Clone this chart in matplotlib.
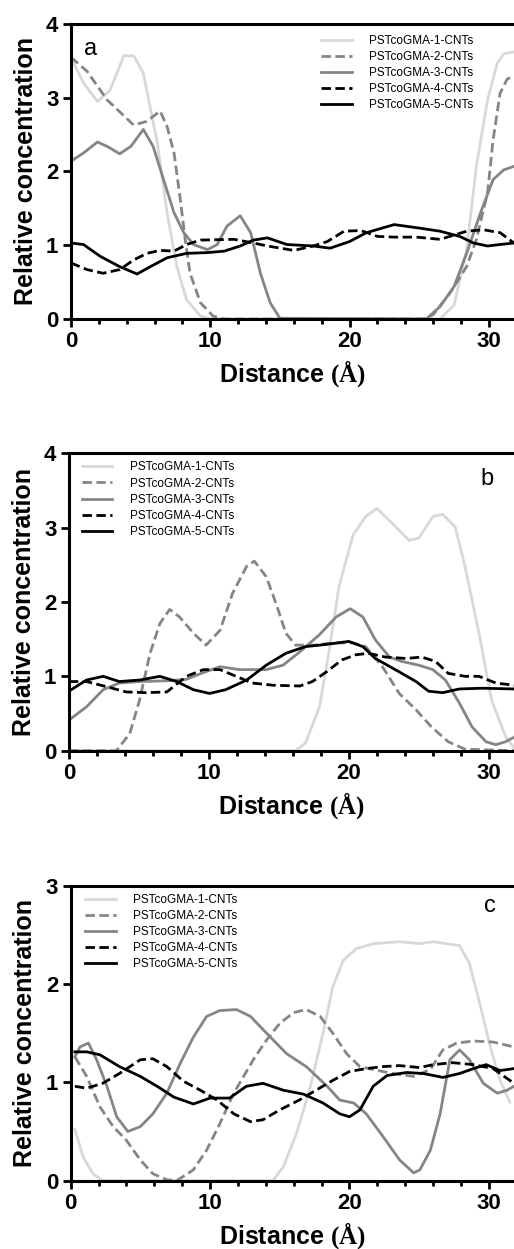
import numpy as np
import matplotlib
matplotlib.use("Agg")
import matplotlib.pyplot as plt

plt.rcParams['font.family'] = ['Liberation Sans', 'DejaVu Sans']
plt.rcParams['mathtext.fontset'] = 'custom'
plt.rcParams['mathtext.bf'] = 'Liberation Serif:bold'
plt.rcParams['mathtext.rm'] = 'Liberation Serif'

labels = ["PSTcoGMA-1-CNTs", "PSTcoGMA-2-CNTs", "PSTcoGMA-3-CNTs",
          "PSTcoGMA-4-CNTs", "PSTcoGMA-5-CNTs"]

# panel a
a_x1 = [0, 0.9, 1.9, 2.8, 3.8, 4.5, 5.2, 6.2, 6.9, 7.6, 8.3, 9.3, 10.2, 26.5, 27.5, 28.4, 29.1, 29.9, 30.6, 31.1, 31.8]
a_y1 = [3.55, 3.2, 2.95, 3.1, 3.57, 3.57, 3.33, 2.39, 1.44, 0.71, 0.26, 0.04, 0, 0, 0.19, 0.94, 2.07, 2.97, 3.47, 3.6, 3.62]
a_x2 = [0, 1.15, 2.6, 4.5, 5.45, 6.4, 6.9, 7.4, 7.85, 8.2, 8.55, 9.3, 10.2, 11, 25.3, 26, 27.2, 28.4, 29.1, 29.9, 30.3, 30.8, 31.3, 31.8]
a_y2 = [3.55, 3.36, 2.97, 2.63, 2.68, 2.82, 2.61, 2.25, 1.62, 1.08, 0.62, 0.22, 0.04, 0, 0, 0.06, 0.35, 0.71, 1.08, 1.71, 2.43, 3.06, 3.25, 3.3]
a_x3 = [0, 0.9, 1.9, 2.6, 3.5, 4.3, 5.2, 5.9, 6.65, 7.4, 8.1, 8.8, 9.8, 10.5, 11.2, 12.15, 12.9, 13.6, 14.3, 15.0, 25.5, 26.5, 27.5, 28.4, 29.4, 30.3, 31.05, 31.8]
a_y3 = [2.14, 2.25, 2.4, 2.34, 2.24, 2.34, 2.57, 2.34, 1.89, 1.44, 1.17, 1.01, 0.94, 1.01, 1.26, 1.4, 1.17, 0.62, 0.22, 0.01, 0, 0.17, 0.44, 0.89, 1.44, 1.89, 2.02, 2.07]
a_x4 = [0, 1.15, 2.3, 3.5, 4.5, 5.45, 6.4, 7.4, 8.3, 9.3, 11.7, 13.1, 14.1, 16.0, 17.4, 18.4, 19.6, 20.8, 22.0, 23.2, 24.8, 26.5, 28.4, 29.6, 30.8, 31.8]
a_y4 = [0.76, 0.67, 0.62, 0.67, 0.8, 0.89, 0.93, 0.92, 1.01, 1.07, 1.08, 1.03, 0.99, 0.93, 0.99, 1.05, 1.19, 1.2, 1.12, 1.11, 1.11, 1.08, 1.19, 1.21, 1.17, 1.03]
a_x5 = [0, 0.9, 2.1, 3.5, 4.75, 5.7, 6.9, 8.3, 9.8, 11, 12.15, 13.1, 14.1, 15.5, 17.4, 18.6, 20, 21.2, 23.2, 25.1, 26.5, 27.9, 28.9, 29.9, 30.8, 31.8]
a_y5 = [1.03, 1.01, 0.85, 0.71, 0.61, 0.71, 0.83, 0.89, 0.9, 0.92, 0.99, 1.07, 1.1, 1.01, 0.99, 0.96, 1.05, 1.17, 1.28, 1.23, 1.19, 1.12, 1.03, 0.99, 1.01, 1.03]

# panel b
b_x1 = [0, 16.2, 16.9, 17.9, 18.6, 19.3, 20.3, 21.2, 22.0, 23.1, 24.3, 25.0, 26.0, 26.7, 27.6, 28.3, 29.3, 30.2, 31.2, 31.8]
b_y1 = [0, 0, 0.1, 0.59, 1.35, 2.21, 2.9, 3.15, 3.26, 3.06, 2.83, 2.86, 3.15, 3.18, 3.01, 2.48, 1.58, 0.68, 0.19, 0.04]
b_x2 = [0, 3.4, 4.35, 5.05, 5.8, 6.5, 7.2, 7.9, 8.9, 9.8, 10.8, 11.7, 12.7, 13.25, 14.1, 14.8, 15.5, 16.2, 17.6, 18.8, 20.3, 21.2, 22.4, 23.6, 24.8, 25.9, 27.1, 28.3, 31.8]
b_y2 = [0, 0, 0.23, 0.68, 1.31, 1.71, 1.9, 1.8, 1.58, 1.42, 1.62, 2.12, 2.48, 2.55, 2.34, 1.98, 1.58, 1.42, 1.42, 1.45, 1.45, 1.4, 1.13, 0.77, 0.55, 0.32, 0.12, 0.02, 0]
b_x3 = [0, 1.26, 2.45, 3.6, 5.05, 7, 8.4, 9.6, 10.8, 12.2, 14.1, 15.3, 16.5, 17.9, 19.1, 20.1, 21, 21.9, 22.9, 23.8, 25, 26, 26.9, 27.9, 28.8, 29.8, 30.5, 31.2, 31.8]
b_y3 = [0.41, 0.59, 0.82, 0.91, 0.93, 0.94, 0.96, 1.05, 1.13, 1.09, 1.09, 1.15, 1.33, 1.56, 1.8, 1.91, 1.8, 1.49, 1.26, 1.2, 1.15, 1.09, 0.95, 0.64, 0.32, 0.12, 0.08, 0.12, 0.18]
b_x4 = [0, 1.26, 2.7, 4.1, 5.5, 7, 8.4, 9.6, 10.8, 11.95, 13.1, 14.6, 16.5, 17.4, 18.4, 19.5, 20.5, 21.4, 22.6, 24.1, 25.2, 26.2, 27.1, 28.3, 29.3, 30.5, 31.8]
b_y4 = [0.93, 0.93, 0.86, 0.79, 0.78, 0.79, 1.0, 1.09, 1.09, 1.0, 0.91, 0.88, 0.87, 0.93, 1.06, 1.22, 1.29, 1.31, 1.26, 1.24, 1.26, 1.2, 1.04, 1.0, 1.0, 0.91, 0.88]
b_x5 = [0, 1.26, 2.45, 3.6, 5.05, 6.5, 7.7, 8.9, 10.05, 11.2, 12.7, 14.1, 15.5, 16.9, 18.4, 20, 21, 21.9, 23.6, 24.8, 25.7, 26.7, 27.9, 29.5, 31.8]
b_y5 = [0.8, 0.95, 1.0, 0.93, 0.95, 1.0, 0.93, 0.82, 0.77, 0.82, 0.95, 1.15, 1.31, 1.4, 1.43, 1.47, 1.4, 1.24, 1.06, 0.93, 0.8, 0.78, 0.83, 0.84, 0.83]

# panel c
c_x1 = [0.3, 0.9, 1.6, 2.3, 14.5, 15.25, 16.2, 17.2, 18.1, 18.8, 19.55, 20.5, 21.7, 23.6, 25.05, 26, 27.9, 28.6, 29.4, 30.1, 30.8, 31.5]
c_y1 = [0.52, 0.24, 0.07, 0, 0, 0.14, 0.48, 0.96, 1.5, 1.97, 2.24, 2.36, 2.41, 2.43, 2.41, 2.43, 2.39, 2.21, 1.77, 1.36, 1.02, 0.8]
c_x2 = [0.3, 1.15, 2.1, 3.05, 4, 5, 5.9, 6.9, 7.6, 8.8, 9.75, 10.7, 11.7, 13.1, 14.05, 15.0, 16, 16.9, 17.9, 18.8, 19.8, 20.75, 21.7, 23.1, 24.6, 25.8, 26.7, 27.7, 28.9, 30.3, 31.8]
c_y2 = [1.26, 1.06, 0.75, 0.55, 0.41, 0.21, 0.07, 0.01, 0, 0.11, 0.31, 0.58, 0.89, 1.23, 1.43, 1.6, 1.71, 1.74, 1.67, 1.5, 1.29, 1.16, 1.13, 1.09, 1.06, 1.13, 1.33, 1.4, 1.42, 1.41, 1.36]
c_x3 = [0.3, 0.67, 1.27, 1.86, 2.6, 3.3, 4.1, 5, 5.9, 6.9, 7.85, 8.8, 9.75, 10.7, 11.9, 12.9, 14.05, 15.5, 16.9, 18.4, 19.3, 20.3, 21.2, 22.4, 23.6, 24.6, 25.05, 25.8, 26.5, 27.2, 27.9, 28.6, 29.6, 30.6, 31.3, 31.8]
c_y3 = [1.26, 1.36, 1.4, 1.23, 0.96, 0.65, 0.5, 0.55, 0.68, 0.89, 1.19, 1.46, 1.67, 1.73, 1.74, 1.67, 1.5, 1.29, 1.16, 0.96, 0.82, 0.79, 0.68, 0.45, 0.21, 0.08, 0.11, 0.31, 0.68, 1.23, 1.33, 1.23, 0.99, 0.89, 0.92, 0.96]
c_x4 = [0.3, 1.15, 2.3, 3.5, 5, 5.9, 6.9, 8.1, 9.3, 10.5, 11.7, 12.9, 13.8, 15.0, 16.4, 17.6, 18.8, 20, 21.2, 22.4, 23.6, 25.05, 26, 27.4, 28.9, 30.3, 31.8]
c_y4 = [0.96, 0.94, 0.99, 1.09, 1.23, 1.24, 1.16, 1.01, 0.92, 0.82, 0.68, 0.6, 0.62, 0.72, 0.82, 0.92, 1.02, 1.11, 1.14, 1.16, 1.17, 1.15, 1.18, 1.2, 1.18, 1.14, 0.99]
c_x5 = [0.3, 1.15, 2.1, 3.5, 5, 6.2, 7.4, 8.8, 10, 11.4, 12.6, 13.8, 15.25, 16.7, 18.1, 19.3, 20, 20.75, 21.7, 22.7, 24.1, 25.3, 26.7, 27.9, 28.9, 29.8, 30.8, 31.8]
c_y5 = [1.31, 1.31, 1.28, 1.16, 1.06, 0.96, 0.85, 0.78, 0.84, 0.84, 0.96, 0.99, 0.92, 0.88, 0.79, 0.68, 0.65, 0.72, 0.96, 1.07, 1.1, 1.09, 1.05, 1.09, 1.14, 1.18, 1.12, 1.14]

colors = ['#d8d8d8', '#858585', '#858585', '#000000', '#000000']
styles = ['-', '--', '-', '--', '-']

fig = plt.figure(figsize=(5.14, 12.49), dpi=100)

panels = [
    ([0.138, 0.7446, 0.862, 0.2362], [(a_x1, a_y1), (a_x2, a_y2), (a_x3, a_y3), (a_x4, a_y4), (a_x5, a_y5)], 4, 'a', (0.045, 0.915), (0.564, 0.963)),
    ([0.134, 0.399, 0.866, 0.238], [(b_x1, b_y1), (b_x2, b_y2), (b_x3, b_y3), (b_x4, b_y4), (b_x5, b_y5)], 4, 'b', (0.94, 0.915), (0.029, 0.973)),
    ([0.1375, 0.0547, 0.8625, 0.2362], [(c_x1, c_y1), (c_x2, c_y2), (c_x3, c_y3), (c_x4, c_y4), (c_x5, c_y5)], 3, 'c', (0.945, 0.93), (0.032, 0.972)),
]

for rect, series, ymax, letter, lpos, legpos in panels:
    ax = fig.add_axes(rect)
    for (xs, ys), c, ls, lab in zip(series, colors, styles, labels):
        line, = ax.plot(xs, ys, color=c, linestyle=ls, lw=2.0, label=lab)
        if ls == '--':
            line.set_dashes((3.4, 1.6))
    ax.set_xlim(0, 31.8)
    ax.set_ylim(0, ymax)
    ax.set_xticks([0, 10, 20, 30])
    ax.set_xticks(np.arange(0, 32, 2), minor=True)
    ax.set_yticks(np.arange(0, ymax + 1))
    ax.spines['right'].set_visible(False)
    for s in ['left', 'bottom', 'top']:
        ax.spines[s].set_linewidth(2.2)
    ax.tick_params(which='major', length=6, width=2.0, direction='out', labelsize=16, pad=3)
    ax.tick_params(which='minor', length=3.5, width=2.0, direction='out')
    ax.tick_params(axis='y', which='minor', left=False)
    for t in ax.get_xticklabels() + ax.get_yticklabels():
        t.set_fontweight('bold')
    ax.set_ylabel("Relative concentration", fontsize=18, fontweight='bold', labelpad=6)
    ax.set_xlabel("Distance $\\mathbf{(Å)}$", fontsize=18, fontweight='bold', labelpad=4)
    ax.text(lpos[0], lpos[1], letter, transform=ax.transAxes, fontsize=17,
            ha='center', va='center')
    leg = ax.legend(loc='upper left', bbox_to_anchor=legpos, frameon=False,
                    fontsize=8.5, handlelength=2.6, handletextpad=1.5,
                    labelspacing=0.35, borderpad=0, borderaxespad=0)

fig.savefig("out.png", dpi=100)
